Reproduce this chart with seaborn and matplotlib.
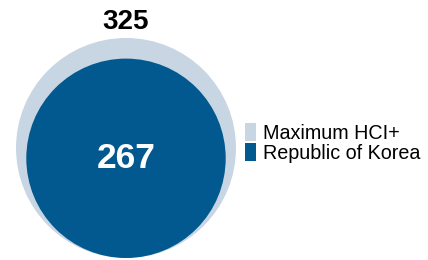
import numpy as np
import matplotlib
matplotlib.use("Agg")
import matplotlib.pyplot as plt
from matplotlib.patches import Circle, Patch
import seaborn as sns

labels = ["Maximum HCI+", "Republic of Korea"]
values = [325, 267]
colors = ["#c8d6e4", "#02598f"]

sns.set_theme(style="white")
plt.rcParams['font.family'] = ['Liberation Sans', 'DejaVu Sans']
plt.rcParams['text.color'] = 'black'

fig = plt.figure(figsize=(4.28, 2.60), dpi=100)
ax = fig.add_axes([0, 0, 1, 1])
ax.set_axis_off()

# radius ~ sqrt(value) so areas are proportional; circles share the bottom edge
radii = np.sqrt(values)
px = 110 / radii[0]  # pixels per data unit
ax.set_xlim(-126 / px, (428 - 126) / px)
ax.set_ylim(-2 / px, (260 - 2) / px)
ax.set_aspect('equal')

for r, c in zip(radii, colors):
    ax.add_patch(Circle((0, r), r, facecolor=c, edgecolor='none'))

ax.annotate(str(values[0]), (0, 2 * radii[0]), xytext=(0, 2), textcoords='offset points',
            ha='center', va='bottom', fontsize=20, fontweight='bold', color='black')
ax.text(0, radii[1], str(values[1]), ha='center', va='center',
        fontsize=25.5, fontweight='bold', color='white')

handles = [Patch(facecolor=c, edgecolor='none', label=l) for l, c in zip(labels, colors)]
fig.legend(handles=handles, loc='center left', bbox_to_anchor=(0.572, 0.45),
           frameon=False, fontsize=14.2, handlelength=0.55, handleheight=1.0,
           handletextpad=0.35, labelspacing=0.02, borderpad=0, borderaxespad=0)

fig.savefig("out.png", dpi=100)
